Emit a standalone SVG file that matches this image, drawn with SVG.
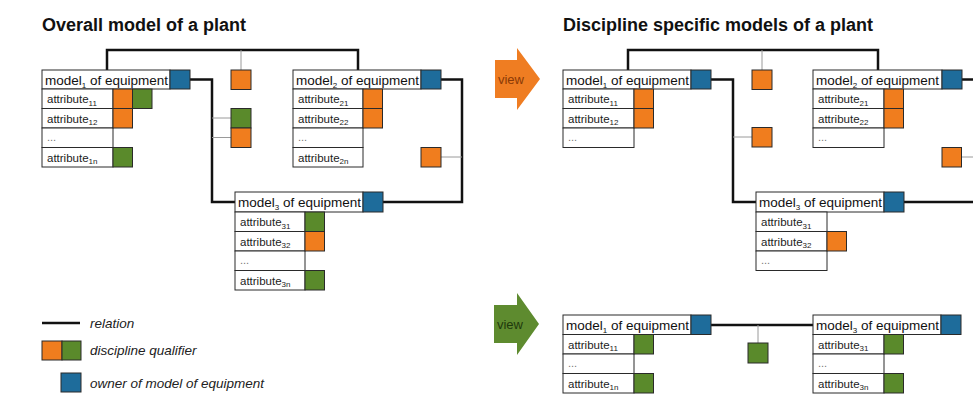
<svg xmlns="http://www.w3.org/2000/svg" width="973" height="402" viewBox="0 0 973 402">
<style>
.bg{fill:#fff}
.box{fill:#fff;stroke:#2a2a2a;stroke-width:1}
.own{fill:#1e6c9b;stroke:#2a2a2a;stroke-width:1}
.or{fill:#f07d1e;stroke:#2a2a2a;stroke-width:1}
.gr{fill:#5a8a2b;stroke:#2a2a2a;stroke-width:1}
.rel{fill:none;stroke:#111;stroke-width:2.5}
.thin{fill:none;stroke:#9a9a9a;stroke-width:1}
.title{font-family:"Liberation Sans",Arial,sans-serif;font-weight:bold;font-size:18px;fill:#111}
.ht{font-family:"Liberation Sans",Arial,sans-serif;font-size:13.5px;fill:#111}
.at{font-family:"Liberation Sans",Arial,sans-serif;font-size:11.5px;fill:#222}
.sub{font-size:8px}
.dots{font-family:"Liberation Sans",Arial,sans-serif;font-size:11px;fill:#777}
.leg{font-family:"Liberation Sans",Arial,sans-serif;font-style:italic;font-size:13.5px;fill:#222}
.view{font-family:"Liberation Sans",Arial,sans-serif;font-size:13px}
</style>
<rect class="bg" x="0" y="0" width="973" height="402"/>

<text class="title" x="42" y="31">Overall model of a plant</text>
<text class="title" x="563" y="31">Discipline specific models of a plant</text>

<g id="connectors">
  <path class="rel" d="M107 70 V50 H358 V70"/>
  <path class="thin" d="M241 50 V70"/>
  <path class="rel" d="M190 79.5 H212 V202 H235"/>
  <path class="thin" d="M212 118 H231 M212 137.5 H231"/>
  <path class="rel" d="M441 79.5 H462 V202 H383"/>
  <path class="thin" d="M441 157 H462"/>
  <path class="rel" d="M628 70 V50 H878 V70"/>
  <path class="thin" d="M762 50 V70"/>
  <path class="rel" d="M711 79.5 H733 V202 H756"/>
  <path class="thin" d="M733 137 H752"/>
  <path class="rel" d="M962 79.5 H973"/>
  <path class="rel" d="M904 202 H973"/>
  <path class="thin" d="M961 157 H973"/>
  <path class="rel" d="M711 325 H813"/>
  <path class="thin" d="M758 325 V343"/>
</g>

<g id="relation-qualifiers">
  <rect class="or" x="231" y="70" width="20" height="19.5"/>
  <rect class="gr" x="231" y="108.5" width="20" height="19.5"/>
  <rect class="or" x="231" y="128" width="20" height="19.5"/>
  <rect class="or" x="421" y="147.5" width="20" height="19.5"/>
  <rect class="or" x="752" y="70" width="20" height="19.5"/>
  <rect class="or" x="752" y="127.5" width="20" height="19.5"/>
  <rect class="or" x="942" y="147.5" width="19.5" height="19.5"/>
  <rect class="gr" x="748" y="343" width="20" height="20"/>
</g>

<g id="L-model1">
  <rect class="box" x="42" y="70" width="128" height="19"/>
  <rect class="own" x="170" y="70" width="20" height="19"/>
  <text class="ht" x="45" y="84.5">model<tspan class="sub" dy="3">1</tspan><tspan dy="-3"> of equipment</tspan></text>
  <rect class="box" x="42" y="89" width="71" height="19.5"/>
  <rect class="box" x="42" y="108.5" width="71" height="19.5"/>
  <rect class="box" x="42" y="128" width="71" height="19.5"/>
  <rect class="box" x="42" y="147.5" width="71" height="19.5"/>
  <text class="at" x="47" y="103">attribute<tspan class="sub" dy="2.5">11</tspan></text>
  <text class="at" x="47" y="122.5">attribute<tspan class="sub" dy="2.5">12</tspan></text>
  <text class="dots" x="47" y="141">...</text>
  <text class="at" x="47" y="161.5">attribute<tspan class="sub" dy="2.5">1n</tspan></text>
  <rect class="or" x="113" y="89" width="19.5" height="19.5"/>
  <rect class="gr" x="132.5" y="89" width="19.5" height="19.5"/>
  <rect class="or" x="113" y="108.5" width="19.5" height="19.5"/>
  <rect class="gr" x="113" y="147.5" width="19.5" height="19.5"/>
</g>

<g id="L-model2">
  <rect class="box" x="293" y="70" width="128" height="19"/>
  <rect class="own" x="421" y="70" width="20" height="19"/>
  <text class="ht" x="296" y="84.5">model<tspan class="sub" dy="3">2</tspan><tspan dy="-3"> of equipment</tspan></text>
  <rect class="box" x="293" y="89" width="70" height="19.5"/>
  <rect class="box" x="293" y="108.5" width="70" height="19.5"/>
  <rect class="box" x="293" y="128" width="70" height="19.5"/>
  <rect class="box" x="293" y="147.5" width="70" height="19.5"/>
  <text class="at" x="298" y="103">attribute<tspan class="sub" dy="2.5">21</tspan></text>
  <text class="at" x="298" y="122.5">attribute<tspan class="sub" dy="2.5">22</tspan></text>
  <text class="dots" x="298" y="141">...</text>
  <text class="at" x="298" y="161.5">attribute<tspan class="sub" dy="2.5">2n</tspan></text>
  <rect class="or" x="363" y="89" width="19.5" height="19.5"/>
  <rect class="or" x="363" y="108.5" width="19.5" height="19.5"/>
</g>

<g id="L-model3">
  <rect class="box" x="235" y="192" width="128" height="20"/>
  <rect class="own" x="363" y="192" width="20" height="20"/>
  <text class="ht" x="238" y="207">model<tspan class="sub" dy="3">3</tspan><tspan dy="-3"> of equipment</tspan></text>
  <rect class="box" x="235" y="212" width="70" height="19.5"/>
  <rect class="box" x="235" y="231.5" width="70" height="19.5"/>
  <rect class="box" x="235" y="251" width="70" height="19.5"/>
  <rect class="box" x="235" y="270.5" width="70" height="19.5"/>
  <text class="at" x="240" y="226">attribute<tspan class="sub" dy="2.5">31</tspan></text>
  <text class="at" x="240" y="245.5">attribute<tspan class="sub" dy="2.5">32</tspan></text>
  <text class="dots" x="240" y="264">...</text>
  <text class="at" x="240" y="284.5">attribute<tspan class="sub" dy="2.5">3n</tspan></text>
  <rect class="gr" x="305" y="212" width="19.5" height="19.5"/>
  <rect class="or" x="305" y="231.5" width="19.5" height="19.5"/>
  <rect class="gr" x="305" y="270.5" width="19.5" height="19.5"/>
</g>

<g id="legend">
  <path class="rel" d="M42 323 H80"/>
  <text class="leg" x="90" y="327.5">relation</text>
  <rect class="or" x="42" y="341" width="20" height="19"/>
  <rect class="gr" x="62" y="341" width="19" height="19"/>
  <text class="leg" x="90" y="355">discipline qualifier</text>
  <rect class="own" x="61" y="373" width="20" height="19"/>
  <text class="leg" x="90" y="387.5">owner of model of equipment</text>
</g>

<g id="view-orange">
  <polygon points="495,60 517,60 517,48 540,79 517,110 517,98 495,98" fill="#ef7d22"/>
  <text class="view" x="511" y="83.5" text-anchor="middle" fill="#8a3a06">view</text>
</g>
<g id="view-green">
  <polygon points="494,305 517,305 517,293 539,324 517,355 517,343 494,343" fill="#5e8b2f"/>
  <text class="view" x="510" y="328.5" text-anchor="middle" fill="#1e3a0c">view</text>
</g>

<g id="RT-model1">
  <rect class="box" x="563" y="70" width="128" height="19"/>
  <rect class="own" x="691" y="70" width="20" height="19"/>
  <text class="ht" x="566" y="84.5">model<tspan class="sub" dy="3">1</tspan><tspan dy="-3"> of equipment</tspan></text>
  <rect class="box" x="563" y="89" width="71" height="19.5"/>
  <rect class="box" x="563" y="108.5" width="71" height="19.5"/>
  <rect class="box" x="563" y="128" width="71" height="19.5"/>
  <text class="at" x="568" y="103">attribute<tspan class="sub" dy="2.5">11</tspan></text>
  <text class="at" x="568" y="122.5">attribute<tspan class="sub" dy="2.5">12</tspan></text>
  <text class="dots" x="568" y="141">...</text>
  <rect class="or" x="634" y="89" width="19.5" height="19.5"/>
  <rect class="or" x="634" y="108.5" width="19.5" height="19.5"/>
</g>

<g id="RT-model2">
  <rect class="box" x="813" y="70" width="129" height="19"/>
  <rect class="own" x="942" y="70" width="20" height="19"/>
  <text class="ht" x="816" y="84.5">model<tspan class="sub" dy="3">2</tspan><tspan dy="-3"> of equipment</tspan></text>
  <rect class="box" x="813" y="89" width="71" height="19.5"/>
  <rect class="box" x="813" y="108.5" width="71" height="19.5"/>
  <rect class="box" x="813" y="128" width="71" height="19.5"/>
  <text class="at" x="818" y="103">attribute<tspan class="sub" dy="2.5">21</tspan></text>
  <text class="at" x="818" y="122.5">attribute<tspan class="sub" dy="2.5">22</tspan></text>
  <text class="dots" x="818" y="141">...</text>
  <rect class="or" x="884" y="89" width="19.5" height="19.5"/>
  <rect class="or" x="884" y="108.5" width="19.5" height="19.5"/>
</g>

<g id="RT-model3">
  <rect class="box" x="756" y="192" width="128" height="20"/>
  <rect class="own" x="884" y="192" width="20" height="20"/>
  <text class="ht" x="759" y="207">model<tspan class="sub" dy="3">3</tspan><tspan dy="-3"> of equipment</tspan></text>
  <rect class="box" x="756" y="212" width="71" height="19.5"/>
  <rect class="box" x="756" y="231.5" width="71" height="19.5"/>
  <rect class="box" x="756" y="251" width="71" height="19.5"/>
  <text class="at" x="761" y="226">attribute<tspan class="sub" dy="2.5">31</tspan></text>
  <text class="at" x="761" y="245.5">attribute<tspan class="sub" dy="2.5">32</tspan></text>
  <text class="dots" x="761" y="264">...</text>
  <rect class="or" x="827" y="231.5" width="19.5" height="19.5"/>
</g>

<g id="RB-model1">
  <rect class="box" x="563" y="315" width="128" height="19.5"/>
  <rect class="own" x="691" y="315" width="20" height="19.5"/>
  <text class="ht" x="566" y="330">model<tspan class="sub" dy="3">1</tspan><tspan dy="-3"> of equipment</tspan></text>
  <rect class="box" x="563" y="334.5" width="71" height="19.5"/>
  <rect class="box" x="563" y="354" width="71" height="19.5"/>
  <rect class="box" x="563" y="373.5" width="71" height="19.5"/>
  <text class="at" x="568" y="348.5">attribute<tspan class="sub" dy="2.5">11</tspan></text>
  <text class="dots" x="568" y="367">...</text>
  <text class="at" x="568" y="387.5">attribute<tspan class="sub" dy="2.5">1n</tspan></text>
  <rect class="gr" x="634" y="334.5" width="19.5" height="19.5"/>
  <rect class="gr" x="634" y="373.5" width="19.5" height="19.5"/>
</g>

<g id="RB-model3">
  <rect class="box" x="813" y="315" width="128" height="19.5"/>
  <rect class="own" x="941" y="315" width="20" height="19.5"/>
  <text class="ht" x="816" y="330">model<tspan class="sub" dy="3">3</tspan><tspan dy="-3"> of equipment</tspan></text>
  <rect class="box" x="813" y="334.5" width="71" height="19.5"/>
  <rect class="box" x="813" y="354" width="71" height="19.5"/>
  <rect class="box" x="813" y="373.5" width="71" height="19.5"/>
  <text class="at" x="818" y="348.5">attribute<tspan class="sub" dy="2.5">31</tspan></text>
  <text class="dots" x="818" y="367">...</text>
  <text class="at" x="818" y="387.5">attribute<tspan class="sub" dy="2.5">3n</tspan></text>
  <rect class="gr" x="884" y="334.5" width="19.5" height="19.5"/>
  <rect class="gr" x="884" y="373.5" width="19.5" height="19.5"/>
</g>
</svg>
